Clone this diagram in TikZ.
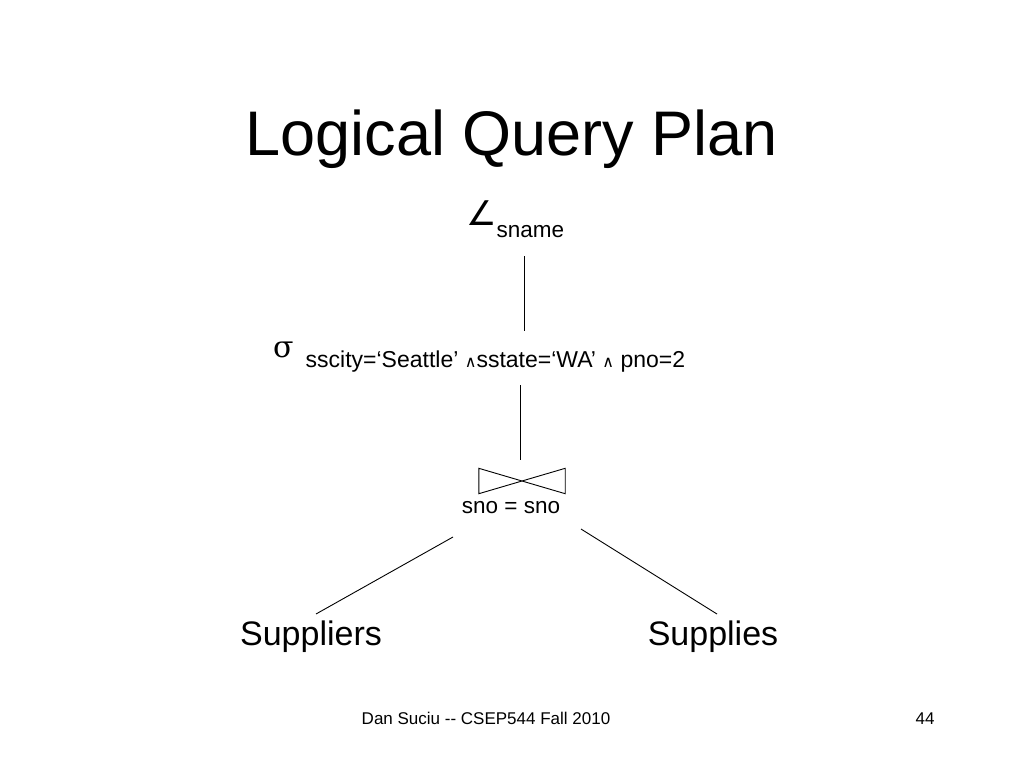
\documentclass[tikz,border=0pt]{standalone}
\usepackage{fontspec}
\setmainfont{Liberation Sans}
\newfontfamily\symfont{DejaVu Sans}
\newfontfamily\greekfont{DejaVu Serif}
\usetikzlibrary{positioning, calc}

\tikzset{
  plan/.style={inner sep=0pt, anchor=base, font=\fontsize{22.5}{26}\selectfont},
  leaf/.style={inner sep=0pt, anchor=base, font=\fontsize{34}{40}\selectfont},
  edge/.style={line width=0.9pt, black},
  bowtie/.style={inner sep=0pt, minimum width=86pt, minimum height=25pt},
}
\newcommand{\wedgesym}{{\symfont\fontsize{16}{16}\selectfont ∧}}

\begin{document}
\begin{tikzpicture}[x=1pt, y=-1pt]
    \useasboundingbox (0,0) rectangle (1024,768);
    % Title
    \node[inner sep=0pt, anchor=base, font=\fontsize{63}{70}\selectfont] (title) at (512,155) {Logical Query Plan};
    % Operators
    \node[plan, anchor=base west] (proj) at (466,225) {{\symfont\fontsize{34}{34}\selectfont ∠}\raisebox{-12pt}{sname}};
    \node[plan, anchor=base west, font=\fontsize{23}{26}\selectfont] (sel) at (273,367) {\raisebox{10pt}{\greekfont\fontsize{30}{30}\selectfont σ}\hspace{12pt}sscity=‘Seattle’ \wedgesym sstate=‘WA’ \wedgesym{} pno=2};
    \node[bowtie] (join) at (522,481) {};
    \draw[edge] (join.north west) -- (join.south west) -- (join.north east) -- (join.south east) -- cycle;
    \node[plan] (cond) at (511,513) {sno = sno};
    % Relations
    \node[leaf] (supr) at (311,645) {Suppliers};
    \node[leaf] (sups) at (713,645) {Supplies};
    % Edges
    \draw[edge] ($(proj.base -| join)+(2,31)$) -- ($(sel.base -| join)+(2,-36)$);
    \draw[edge] ($(sel.base -| join)+(-2,18)$) -- ($(join.north)+(-2,-8)$);
    \draw[edge] ($(cond.base)+(-58,24)$) -- ($(supr.base)+(5,-31)$);
    \draw[edge] ($(cond.base)+(70,16)$) -- ($(sups.base)+(4,-31)$);
    % Footer
    \node[inner sep=0pt, anchor=base, font=\fontsize{17}{20}\selectfont] (footer) at (486,724) {Dan Suciu -{}- CSEP544 Fall 2010};
    \node[inner sep=0pt, anchor=base, font=\fontsize{17}{20}\selectfont] (pagenum) at (925,724) {44};
  \end{tikzpicture}
\end{document}
